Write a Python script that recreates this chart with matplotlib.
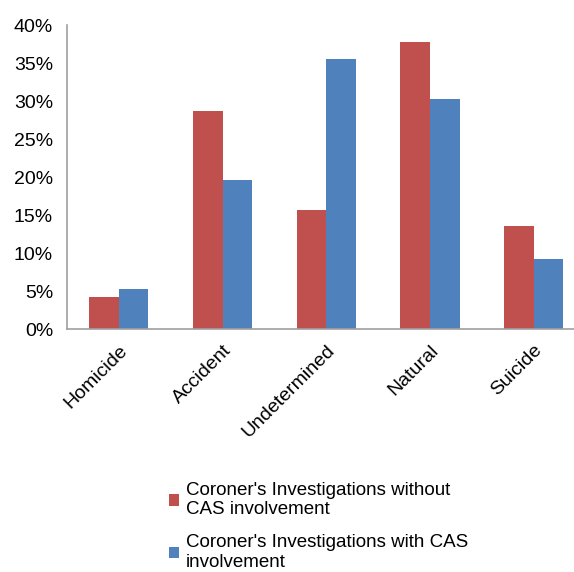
import numpy as np
import matplotlib.pyplot as plt
from matplotlib.ticker import FuncFormatter

categories = ['Homicide', 'Accident', 'Undetermined', 'Natural', 'Suicide']
without_cas = [4.2, 28.7, 15.7, 37.8, 13.6]
with_cas = [5.3, 19.7, 35.6, 30.3, 9.2]
labels = ["Coroner's Investigations without\nCAS involvement",
          "Coroner's Investigations with CAS\ninvolvement"]

plt.rcParams['font.family'] = ['Liberation Sans', 'DejaVu Sans']

fig = plt.figure(figsize=(5.74, 5.72), dpi=100)
ax = fig.add_axes([67/574, 242.7/572, 1 - 67/574, 304/572])

x = np.arange(len(categories))
w = 0.286
b1 = ax.bar(x - w/2, without_cas, w, color='#C0504D', label=labels[0])
b2 = ax.bar(x + w/2, with_cas, w, color='#4F81BD', label=labels[1])

ax.set_ylim(0, 40)
ax.set_xlim(-0.5, 4.39)
ax.set_yticks(range(0, 41, 5))
ax.yaxis.set_major_formatter(FuncFormatter(lambda v, p: '%d%%' % v))
ax.set_xticks(x)
ax.set_xticklabels(categories, rotation=45, ha='right', rotation_mode='anchor')
ax.tick_params(axis='both', length=0, labelsize=14)
ax.tick_params(axis='y', pad=10)
ax.tick_params(axis='x', pad=9)

for s in ['top', 'right']:
    ax.spines[s].set_visible(False)
for s in ['left', 'bottom']:
    ax.spines[s].set_color('#A0A0A0')
    ax.spines[s].set_linewidth(1.2)

fig.legend(handles=[b1, b2], loc='upper left', bbox_to_anchor=(152/574, 1 - 465/572),
           frameon=False, fontsize=13.5, handlelength=0.55, handleheight=0.55,
           handletextpad=0.35, labelspacing=0.85)

fig.savefig('out.png', dpi=100)
